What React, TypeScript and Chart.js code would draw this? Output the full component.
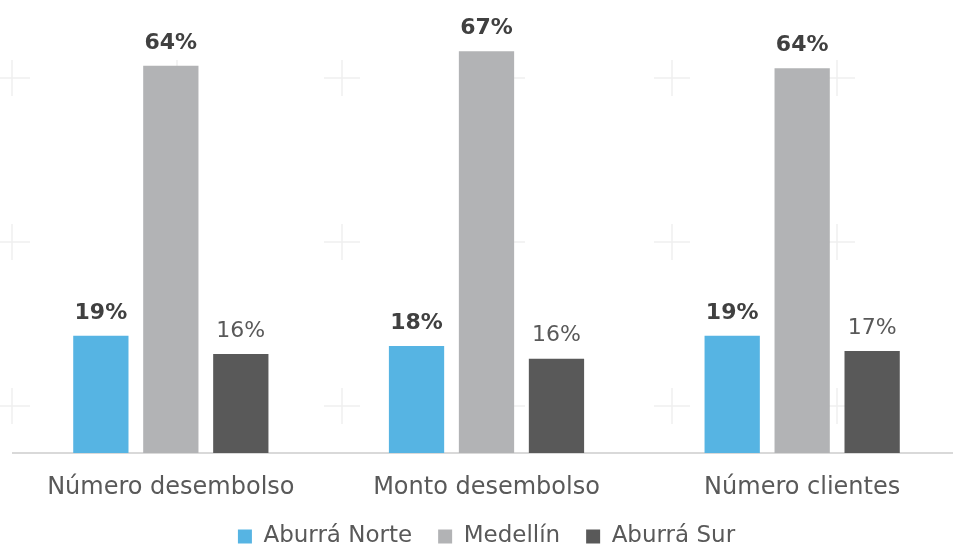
import React, { useEffect, useRef } from "react";
import { Chart, registerables } from "chart.js";

Chart.register(...registerables);

const categories = ["Número desembolso", "Monto desembolso", "Número clientes"];
const seriesNames = ["Aburrá Norte", "Medellín", "Aburrá Sur"];
const aburraNorte = [19.4, 17.7, 19.4];
const medellin = [64.1, 66.5, 63.7];
const aburraSur = [16.4, 15.6, 16.9];
const seriesColors = ["#56B4E3", "#B2B3B5", "#595959"];
const labelBold = [true, true, false];

const FONT = "'DejaVu Sans', sans-serif";

const crossPlugin = {
  id: "crosses",
  beforeDatasetsDraw(chart: any) {
    const ctx = chart.ctx;
    ctx.save();
    ctx.strokeStyle = "#f0f0f0";
    ctx.lineWidth = 1.5;
    const xs = [12, 177, 342, 507, 672, 837];
    const ys = [78, 242, 406];
    for (const x of xs) {
      for (const y of ys) {
        ctx.beginPath();
        ctx.moveTo(x - 18, y);
        ctx.lineTo(x + 18, y);
        ctx.moveTo(x, y - 18);
        ctx.lineTo(x, y + 18);
        ctx.stroke();
      }
    }
    ctx.restore();
  },
};

const valueLabelPlugin = {
  id: "valueLabels",
  afterDatasetsDraw(chart: any) {
    const ctx = chart.ctx;
    ctx.save();
    ctx.textAlign = "center";
    ctx.textBaseline = "middle";
    chart.data.datasets.forEach((ds: any, i: number) => {
      const meta = chart.getDatasetMeta(i);
      const bold = labelBold[i];
      ctx.font = `${bold ? "bold " : ""}22px ${FONT}`;
      ctx.fillStyle = bold ? "#404040" : "#595959";
      meta.data.forEach((bar: any, j: number) => {
        const v = ds.data[j];
        ctx.fillText(`${Math.round(v)}%`, bar.x, bar.y - 23);
      });
    });
    ctx.restore();
  },
};

export default function App() {
  const ref = useRef<HTMLCanvasElement>(null);
  useEffect(() => {
    document.body.style.margin = "0";
    const chart = new Chart(ref.current!, {
      type: "bar",
      data: {
        labels: categories,
        datasets: [aburraNorte, medellin, aburraSur].map((d, i) => ({
          label: seriesNames[i],
          data: d,
          backgroundColor: seriesColors[i],
          barPercentage: 0.79,
          categoryPercentage: 0.665,
        })),
      },
      options: {
        animation: false,
        responsive: true,
        maintainAspectRatio: false,
        layout: { padding: { left: 13, right: 0, top: 0, bottom: 0 } },
        plugins: {
          legend: {
            position: "bottom",
            maxHeight: 49,
            labels: {
              font: { family: FONT, size: 23 },
              color: "#595959",
              boxWidth: 14,
              boxHeight: 14,
              padding: 26,
            },
          },
          tooltip: { enabled: false },
        },
        scales: {
          x: {
            grid: { display: false, drawTicks: false },
            border: { display: true, color: "#d9d9d9", width: 2 },
            ticks: {
              font: { family: FONT, size: 24 },
              color: "#595959",
              padding: 20,
            },
            afterFit(scale: any) {
              scale.height = 46;
            },
          },
          y: {
            display: false,
            min: 0,
            max: 75,
          },
        },
      },
      plugins: [crossPlugin, valueLabelPlugin],
    });
    return () => chart.destroy();
  }, []);
  return (
    <div style={{ position: "absolute", left: 0, top: 0, width: 953, height: 548, overflow: "hidden" }}>
      <div style={{ position: "relative", width: 960, height: 548 }}>
        <canvas ref={ref} />
      </div>
    </div>
  );
}
